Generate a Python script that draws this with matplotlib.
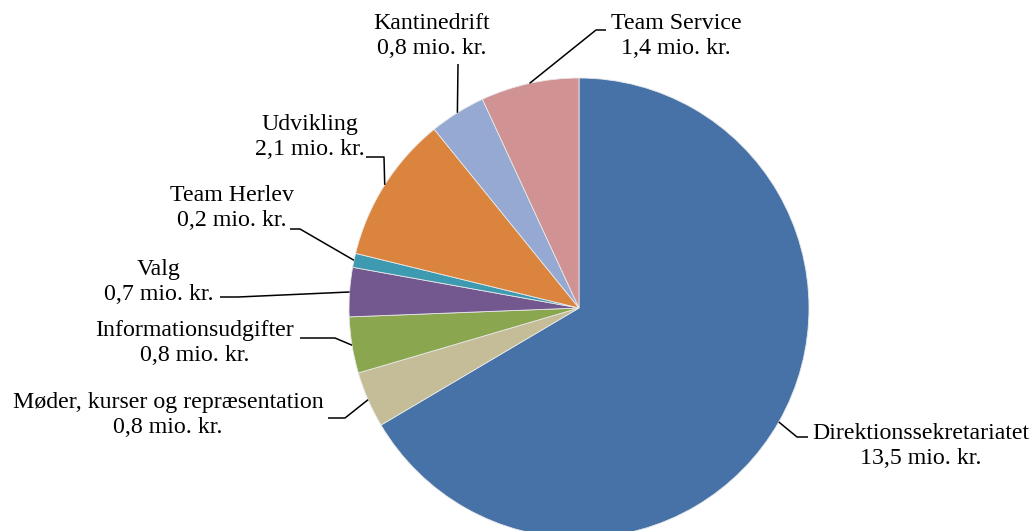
import numpy as np
import matplotlib.pyplot as plt

labels = ["Direktionssekretariatet", "Møder, kurser og repræsentation",
          "Informationsudgifter", "Valg", "Team Herlev", "Udvikling",
          "Kantinedrift", "Team Service"]
values = [13.5, 0.8, 0.8, 0.7, 0.2, 2.1, 0.8, 1.4]
colors = ["#4672A8", "#C4BD97", "#8AA64F", "#72588F", "#3D9AB0",
          "#DB843D", "#95A9D2", "#D09293"]

# label layout in pixel coords (image y down): text centre, elbow, line end
text_pos = [(921, 446), (168, 415), (195, 343), (159, 282), (232, 208),
            (310, 137), (432, 36), (676, 36)]
elbow = [(797, 437), (345, 418), (335, 338), (238, 297), (300, 229),
         (384, 157), (458, 64), (596, 30)]
line_end = [(808, 437), (328, 418), (300, 338), (220, 297), (290, 229),
            (366, 157), (458, 64), (606, 30)]

cx, cy, R = 579, 308, 230

fig = plt.figure(figsize=(10.33, 5.31), dpi=100)
ax = fig.add_axes([0, 0, 1, 1])

wedges, _ = ax.pie(values, colors=colors, startangle=-90, counterclock=True,
                   center=(cx, cy), radius=R, frame=True,
                   wedgeprops=dict(linewidth=0.6, edgecolor="#e8e8e8"))
ax.set_xlim(0, 1033)
ax.set_ylim(531, 0)
ax.set_aspect("equal")
ax.axis("off")

for i, w in enumerate(wedges):
    ang = np.deg2rad((w.theta1 + w.theta2) / 2)
    sx = cx + R * np.cos(ang)
    sy = cy + R * np.sin(ang)
    ax.plot([sx, elbow[i][0], line_end[i][0]], [sy, elbow[i][1], line_end[i][1]],
            color="black", lw=1.1, solid_capstyle="butt")
    txt = labels[i] + "\n" + f"{values[i]:.1f}".replace(".", ",") + " mio. kr."
    ax.text(text_pos[i][0], text_pos[i][1], txt, ha="center", va="center",
            fontsize=17.2, family="Liberation Serif", linespacing=1.3)

fig.savefig("out.png", dpi=100)
